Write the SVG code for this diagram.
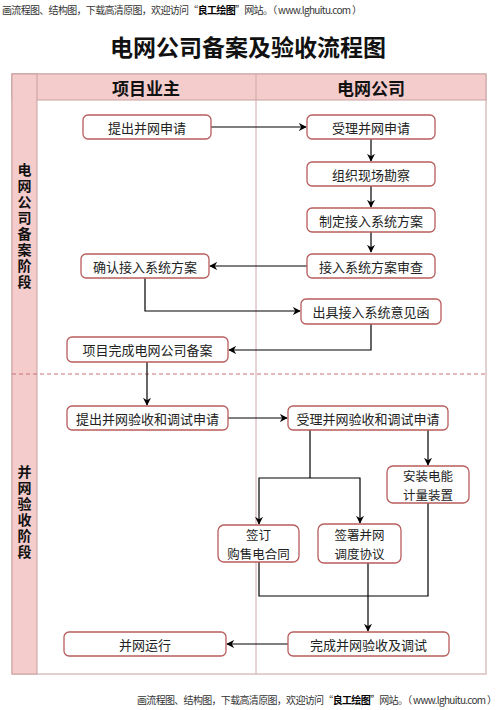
<svg xmlns="http://www.w3.org/2000/svg" width="500" height="710" viewBox="0 0 500 710">
<defs>
<marker id="arr" viewBox="0 0 10 10" refX="9" refY="5" markerWidth="8" markerHeight="8" markerUnits="userSpaceOnUse" orient="auto">
<path d="M0,0 L10,5 L0,10 L3,5 z" fill="#000"/>
</marker>
<style>
text{font-family:"Noto Sans CJK SC","Noto Sans",sans-serif;}
.node rect{fill:#fff;stroke:#b85c5c;stroke-width:1.3;}
.node text{font-size:13px;fill:#222;text-anchor:middle;dominant-baseline:central;}
.node text.two{font-size:12.5px;}
.conn path{fill:none;stroke:#000;stroke-width:1.2;marker-end:url(#arr);}
.conn path.plain{marker-end:none;}
.hdr{fill:#f4cccc;stroke:#c9a0a0;stroke-width:1;}
.htext{font-size:17px;font-weight:bold;fill:#111;text-anchor:middle;dominant-baseline:central;}
.ptext{font-size:14px;font-weight:bold;fill:#111;text-anchor:middle;writing-mode:vertical-rl;letter-spacing:2px;}
.wm{font-size:10px;fill:#333;}
</style>
</defs>
<rect width="500" height="710" fill="#fff"/>
<text class="wm" x="2" y="14" textLength="360" lengthAdjust="spacing">画流程图、结构图，下载高清原图，欢迎访问“<tspan font-weight="bold" fill="#000">良工绘图</tspan>”网站。（ www.lghuitu.com ）</text>
<text x="248" y="46" font-size="23" font-weight="bold" fill="#111" text-anchor="middle" dominant-baseline="central">电网公司备案及验收流程图</text>

<g id="frame">
<rect x="12" y="74" width="474" height="600" fill="#fff" stroke="#c9a0a0" stroke-width="1"/>
<rect class="hdr" x="12" y="74" width="474" height="26"/>
<rect class="hdr" x="12" y="74" width="25" height="600"/>
<line x1="256" y1="74" x2="256" y2="674" stroke="#d0a8a8" stroke-width="1"/>
<line x1="12" y1="374" x2="486" y2="374" stroke="#c87070" stroke-width="1" stroke-dasharray="4,3"/>
<text class="htext" x="146" y="87">项目业主</text>
<text class="htext" x="371" y="87">电网公司</text>
<text class="ptext" x="24.5" y="227">电网公司备案阶段</text>
<text class="ptext" x="24.5" y="513">并网验收阶段</text>
</g>

<g class="conn" id="connectors">
<path d="M211,127 H306"/>
<path d="M371,139 V161"/>
<path d="M371,186 V207"/>
<path d="M371,232 V252"/>
<path d="M307,266 H210"/>
<path d="M145,278 V311 H300"/>
<path d="M371,324 V350 H229"/>
<path d="M147,362 V405"/>
<path d="M228,418 H287"/>
<path class="plain" d="M310,430 V478"/>
<path d="M310,478 H259 V524"/>
<path d="M310,478 H360 V523"/>
<path d="M428,430 V465"/>
<path class="plain" d="M259,562 V596 H428 V503"/>
<path d="M368,563 V631"/>
<path d="M288,644 H227"/>
</g>

<g class="node" id="n1"><rect x="83" y="115" width="128" height="24" rx="5"/><text x="147" y="127">提出并网申请</text></g>
<g class="node" id="n2"><rect x="307" y="115" width="128" height="24" rx="5"/><text x="371" y="127">受理并网申请</text></g>
<g class="node" id="n3"><rect x="307" y="162" width="128" height="24" rx="5"/><text x="371" y="174">组织现场勘察</text></g>
<g class="node" id="n4"><rect x="307" y="208" width="128" height="24" rx="5"/><text x="371" y="220">制定接入系统方案</text></g>
<g class="node" id="n5"><rect x="307" y="254" width="128" height="24" rx="5"/><text x="371" y="266">接入系统方案审查</text></g>
<g class="node" id="n6"><rect x="81" y="254" width="128" height="24" rx="5"/><text x="145" y="266">确认接入系统方案</text></g>
<g class="node" id="n7"><rect x="301" y="299" width="140" height="25" rx="5"/><text x="371" y="311.5">出具接入系统意见函</text></g>
<g class="node" id="n8"><rect x="67" y="337" width="161" height="25" rx="5"/><text x="147.5" y="349.5">项目完成电网公司备案</text></g>
<g class="node" id="n9"><rect x="67" y="406" width="161" height="24" rx="5"/><text x="147.5" y="418">提出并网验收和调试申请</text></g>
<g class="node" id="n10"><rect x="288" y="406" width="160" height="24" rx="5"/><text x="368" y="418">受理并网验收和调试申请</text></g>
<g class="node" id="n11"><rect x="387" y="466" width="82" height="37" rx="6"/><text class="two" x="428" y="475.5">安装电能</text><text class="two" x="428" y="494">计量装置</text></g>
<g class="node" id="n12"><rect x="218" y="525" width="81" height="37" rx="6"/><text class="two" x="258.5" y="534.5">签订</text><text class="two" x="258.5" y="553">购售电合同</text></g>
<g class="node" id="n13"><rect x="318" y="524" width="83" height="39" rx="6"/><text class="two" x="359.5" y="534.5">签署并网</text><text class="two" x="359.5" y="553">调度协议</text></g>
<g class="node" id="n14"><rect x="288" y="632" width="161" height="24" rx="5"/><text x="368.5" y="644">完成并网验收及调试</text></g>
<g class="node" id="n15"><rect x="64" y="632" width="162" height="24" rx="5"/><text x="145" y="644">并网运行</text></g>

<text class="wm" x="497" y="704" text-anchor="end" textLength="360" lengthAdjust="spacing">画流程图、结构图，下载高清原图，欢迎访问“<tspan font-weight="bold" fill="#000">良工绘图</tspan>”网站。（ www.lghuitu.com ）</text>
</svg>
